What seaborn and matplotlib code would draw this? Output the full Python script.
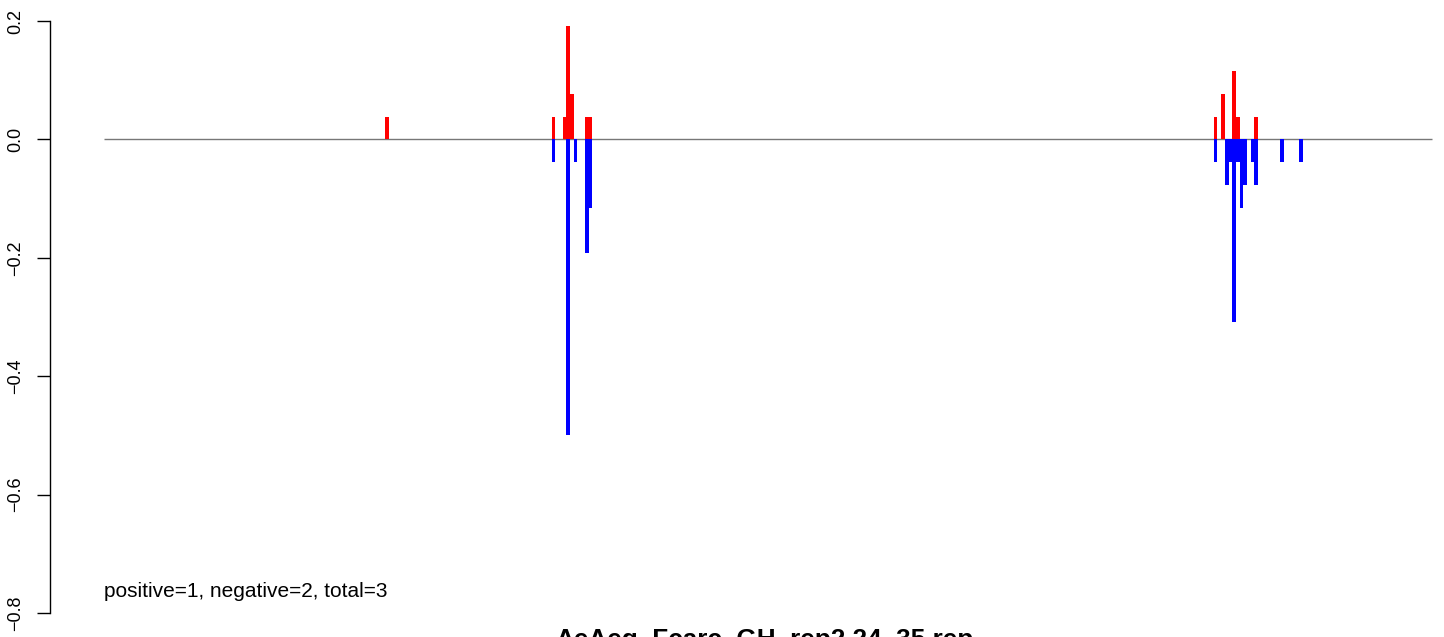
import numpy as np
import pandas as pd
import seaborn as sns
import matplotlib.pyplot as plt

# bin index along the sequence and counts (units of 1/26)
unit = 1 / 26
n_bins = 359

pos_bins = [76, 121, 124, 125, 126, 130, 131, 300, 302, 305, 306, 311]
pos_counts = [1, 1, 1, 5, 2, 1, 1, 1, 2, 3, 1, 1]

neg_bins = [121, 125, 127, 130, 131, 300, 303, 304, 305, 306, 307, 308, 310, 311, 318, 323]
neg_counts = [1, 13, 1, 5, 3, 1, 2, 1, 8, 1, 3, 2, 1, 2, 1, 1]

yticks = [-0.8, -0.6, -0.4, -0.2, 0.0, 0.2]
subtitle = "positive=1, negative=2, total=3"
title = "AeAeg_Fcarc_GH_rep2.24_35.rep"

pos_df = pd.DataFrame({"bin": np.array(pos_bins) + 0.5, "val": np.array(pos_counts) * unit})
neg_df = pd.DataFrame({"bin": np.array(neg_bins) + 0.5, "val": -np.array(neg_counts) * unit})

sns.set_style("white")
plt.rcParams['font.family'] = ['Liberation Sans', 'DejaVu Sans']
plt.rcParams['text.color'] = 'black'

fig = plt.figure(figsize=(14.44, 6.37), dpi=100)
# axes placed in pixels: spine at x=50, y from 613 (-0.8) to 21 (0.2)
ax = fig.add_axes([50 / 1444, (637 - 613) / 637, (1444 - 50) / 1444, 592 / 637])

sns.barplot(data=pos_df, x="bin", y="val", native_scale=True, width=1, color="#ff0000",
            saturation=1, linewidth=0, errorbar=None, ax=ax)
sns.barplot(data=neg_df, x="bin", y="val", native_scale=True, width=1, color="#0000ff",
            saturation=1, linewidth=0, errorbar=None, ax=ax)

ax.hlines(0, 0, n_bins, color="#777777", linewidth=1.0, zorder=0)

w = 1328 / n_bins
ax.set_xlim(-(104 - 50) / w, (1444 - 104) / w)
ax.set_ylim(-0.8, 0.2)

for s in ["top", "right", "bottom"]:
    ax.spines[s].set_visible(False)
ax.spines["left"].set_color("black")
ax.spines["left"].set_linewidth(1.0)
ax.set_xticks([])
ax.set_yticks(yticks)
ax.set_yticklabels([f"{v:.1f}".replace("-", "\u2212") for v in yticks], rotation=90, va="center",
                   fontsize=13)
ax.tick_params(axis="y", direction="out", length=9.5, width=1.0, pad=9, colors="black",
               labelcolor="black", left=True)
ax.set_xlabel("")
ax.set_ylabel("")

ax.text(0, -(597 - 139) / 592, subtitle, fontsize=15, ha="left", va="baseline", color="black")
fig.text(765 / 1444, (637 - 647) / 637, title, fontsize=18.8, fontweight="bold", ha="center",
         va="baseline", color="black")

fig.savefig("out.png", dpi=100)
